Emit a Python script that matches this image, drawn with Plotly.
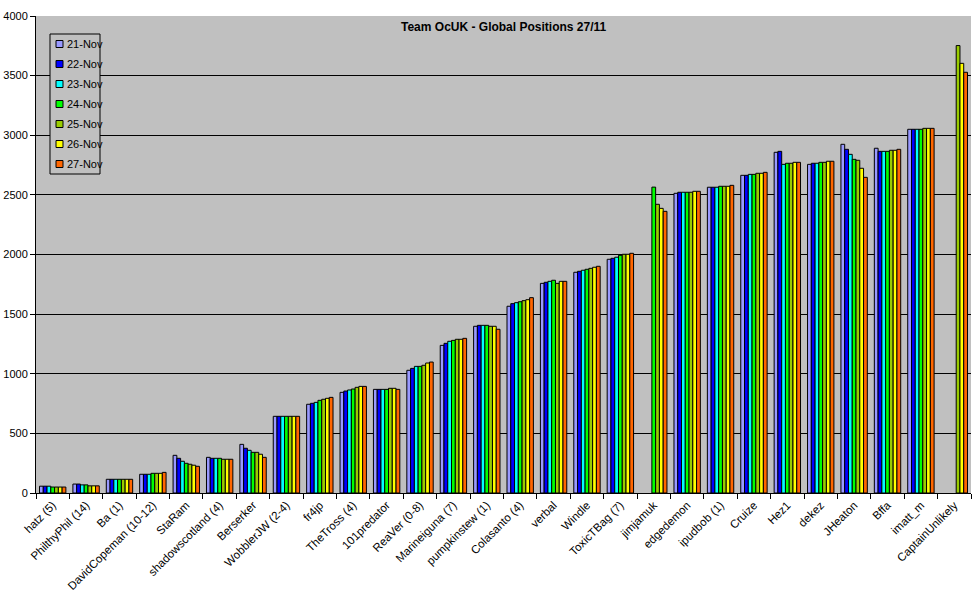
import plotly.graph_objects as go

# Team members (x categories)
members = [
    "hatz (5)", "PhilthyPhil (14)", "Ba (1)", "DavidCopeman (10-12)", "StaRam",
    "shadowscotland (4)", "Berserker", "WobblerJW (2-4)", "fr4jp", "TheTross (4)",
    "101predator", "ReaVer (0-8)", "Marineiguna (7)", "pumpkinstew (1)",
    "Colasanto (4)", "verbal", "Windle", "ToxicTBag (7)", "jimjamuk", "edgedemon",
    "ipudbob (1)", "Cruize", "Hez1", "dekez", "JHeaton", "Bffa", "imatt_m",
    "CaptainUnlikely",
]

days = ["21-Nov", "22-Nov", "23-Nov", "24-Nov", "25-Nov", "26-Nov", "27-Nov"]
colors = ["#9999FF", "#0000FF", "#00FFFF", "#00FF00", "#99CC00", "#FFFF00", "#FF6600"]

# global positions per day
nov21 = [57, 75, 115, 157, 316, 299, 408, 643, 744, 844, 869, 1029, 1238, 1398,
         1566, 1758, 1851, 1960, None, 2513, 2564, 2664, 2857, 2756, 2924, 2891, 3050, None]
nov22 = [57, 75, 115, 157, 291, 291, 375, 643, 752, 855, 869, 1045, 1255, 1406,
         1588, 1767, 1859, 1968, None, 2522, 2564, 2664, 2865, 2765, 2882, 2865, 3050, None]
nov23 = [57, 68, 115, 157, 266, 291, 358, 643, 760, 864, 869, 1062, 1272, 1406,
         1596, 1775, 1868, 1977, None, 2522, 2564, 2672, 2756, 2765, 2840, 2865, 3050, None]
nov24 = [50, 68, 115, 165, 249, 291, 341, 643, 777, 872, 869, 1062, 1280, 1406,
         1604, 1784, 1876, 1993, 2565, 2522, 2572, 2672, 2765, 2773, 2798, 2865, 3050, None]
nov25 = [50, 60, 115, 165, 241, 283, 341, 643, 786, 886, 878, 1071, 1289, 1398,
         1613, 1758, 1884, 2002, 2421, 2522, 2572, 2681, 2765, 2773, 2790, 2874, 3058, 3752]
nov26 = [50, 60, 115, 165, 233, 283, 325, 643, 794, 894, 878, 1090, 1289, 1398,
         1621, 1775, 1893, 2002, 2387, 2530, 2572, 2681, 2773, 2782, 2723, 2874, 3058, 3603]
nov27 = [50, 60, 115, 173, 224, 283, 299, 643, 802, 894, 869, 1098, 1297, 1373,
         1638, 1775, 1901, 2010, 2362, 2530, 2580, 2689, 2773, 2782, 2647, 2882, 3058, 3528]

series = [nov21, nov22, nov23, nov24, nov25, nov26, nov27]

font = "Arial, Liberation Sans, sans-serif"

# plot area in pixels (page body margin is removed below)
W, H = 976, 598
L, R, T, B = 36, 971, 16, 493


def px_x(x):
    # pixel -> paper fraction
    return (x - L) / (R - L)


def px_y(y):
    return (B - y) / (B - T)


fig = go.Figure()
for day, vals, col in zip(days, series, colors):
    fig.add_trace(go.Bar(
        x=members, y=vals, name=day,
        marker_color=col, marker_line_color="black", marker_line_width=1,
        showlegend=False,
    ))

# Excel style legend box drawn by hand
shapes = [dict(
    type="rect", xref="paper", yref="paper",
    x0=px_x(50), x1=px_x(100), y0=px_y(174), y1=px_y(34),
    line=dict(color="black", width=1), fillcolor="#C0C0C0", layer="above",
)]
annotations = [dict(
    text="<b>Team OcUK - Global Positions 27/11</b>",
    xref="paper", yref="paper", x=0.5, y=px_y(27),
    xanchor="center", yanchor="middle", showarrow=False,
    font=dict(family=font, size=12, color="black"),
)]
for i, (day, col) in enumerate(zip(days, colors)):
    cy = 44 + 20 * i
    shapes.append(dict(
        type="rect", xref="paper", yref="paper",
        x0=px_x(56), x1=px_x(63), y0=px_y(cy + 3.5), y1=px_y(cy - 3.5),
        line=dict(color="black", width=1), fillcolor=col, layer="above",
    ))
    annotations.append(dict(
        text=day, xref="paper", yref="paper", x=px_x(65), y=px_y(cy),
        xanchor="left", yanchor="middle", showarrow=False,
        font=dict(family=font, size=11, color="black"),
    ))

fig.update_layout(
    width=W, height=H,
    margin=dict(l=L, r=W - R, t=T, b=H - B, autoexpand=False),
    paper_bgcolor="white",
    plot_bgcolor="#C0C0C0",
    barmode="group",
    bargap=0.21,
    bargroupgap=0,
    font=dict(family=font, size=11, color="black"),
    showlegend=False,
    shapes=shapes,
    annotations=annotations,
    xaxis=dict(
        tickangle=-45, tickson="boundaries", ticks="outside", ticklen=5,
        tickcolor="black", showline=True, linecolor="black", linewidth=1,
        showgrid=False, tickfont=dict(family=font, size=11.5),
        range=[-0.5, len(members) - 0.5], automargin=False,
    ),
    yaxis=dict(
        range=[0, 4000], dtick=500, ticks="outside", ticklen=5,
        tickcolor="black", showline=True, linecolor="black", linewidth=1,
        showgrid=True, gridcolor="black", gridwidth=1, zeroline=False,
        tickfont=dict(family=font, size=11), automargin=False,
    ),
)

fig.write_html(
    "out.html",
    config={"displayModeBar": False},
    post_script="document.body.style.margin='0';",
)
